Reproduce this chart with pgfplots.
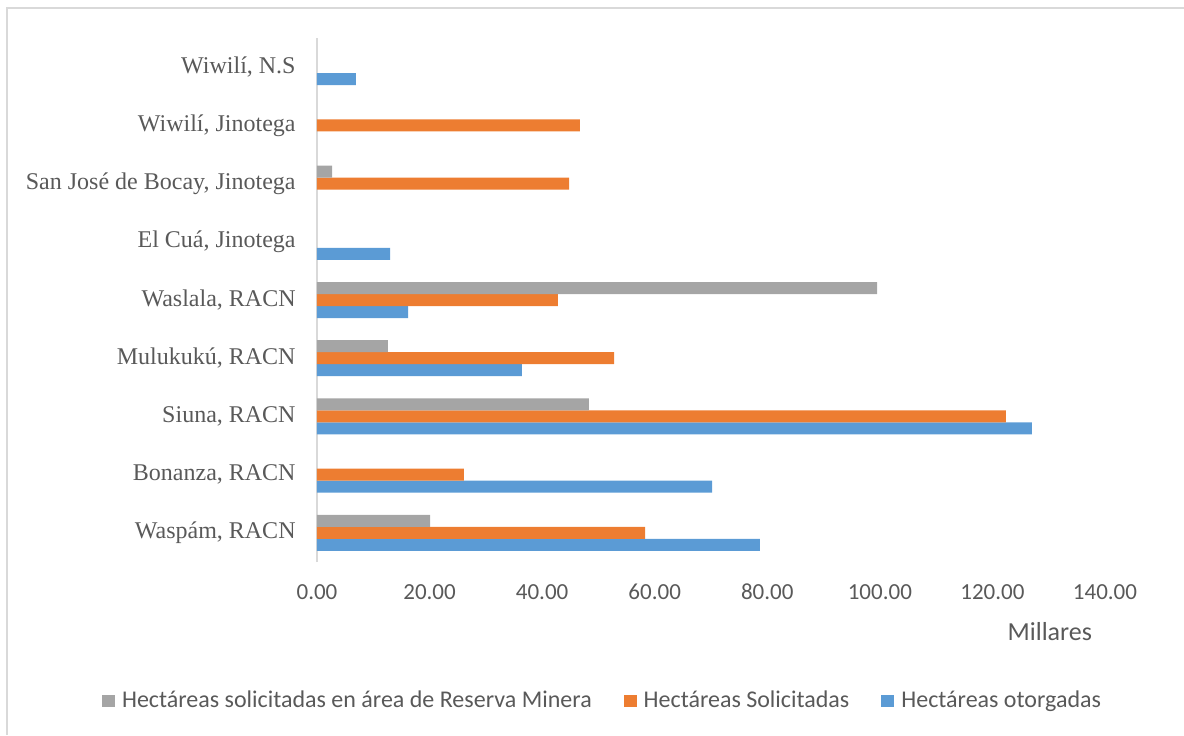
\documentclass[border=0pt]{standalone}
\usepackage{fontspec}
\setmainfont{Liberation Serif}
\newfontfamily\calibri{Carlito}
\usepackage{pgfplots}
\pgfplotsset{compat=1.18}
\definecolor{otorg}{HTML}{5B9BD5}
\definecolor{solic}{HTML}{ED7D31}
\definecolor{reserva}{HTML}{A5A5A5}
\definecolor{txt}{HTML}{595959}
\definecolor{grid}{HTML}{D9D9D9}

\begin{document}
\begin{tikzpicture}
\useasboundingbox (0,0) rectangle (592pt,367.5pt);
% chart area frame (left and top edges only, as cropped)
\draw[grid, line width=0.6pt] (3.5pt,0) -- (3.5pt,363.5pt) -- (592pt,363.5pt);
\begin{axis}[
    at={(158.5pt,86.5pt)}, anchor=south west,
    width=394pt, height=262pt, scale only axis,
    xbar=0pt, bar width=6pt,
    xmin=0, xmax=140, ymin=-0.5, ymax=8.5,
    xtick={0,20,...,140},
    ytick={0,...,8},
    yticklabels={{Waspám, RACN}, {Bonanza, RACN}, {Siuna, RACN},
        {Mulukukú, RACN}, {Waslala, RACN}, {El Cuá, Jinotega},
        {San José de Bocay, Jinotega}, {Wiwilí, Jinotega}, {Wiwilí, N.S}},
    axis lines*=left,
    x axis line style={draw=none},
    y axis line style={draw=grid, line width=0.8pt},
    major tick length=0pt,
    xticklabel style={anchor=center, yshift=-15pt, text=txt,
        font=\calibri\fontsize{11.5}{13}\selectfont,
        /pgf/number format/.cd, fixed, fixed zerofill, precision=2,
        assume math mode=true},
    yticklabel style={anchor=east, inner sep=0pt, xshift=-10.5pt, text=txt,
        font=\fontsize{12}{14}\selectfont},
    xlabel={Millares},
    xlabel style={at={(axis description cs:0.93,0)}, anchor=center,
        yshift=-35pt, text=txt, font=\calibri\fontsize{13}{15}\selectfont},
    reverse legend,
    legend columns=3,
    legend style={at={(axis description cs:0.3636,-0.2653)}, anchor=center,
        draw=none, fill=none, text=txt,
        font=\calibri\fontsize{12}{14}\selectfont,
        /tikz/every even column/.append style={column sep=14pt},
        /tikz/every odd column/.append style={column sep=0pt},
        nodes={inner sep=2pt}},
    legend image code/.code={\fill[#1] (0pt,-3.2pt) rectangle (6.5pt,3.2pt);},
    every axis plot/.append style={draw=none},
]
\addplot[fill=otorg] coordinates {
    (78.7,0) (70.2,1) (127.0,2) (36.4,3) (16.2,4) (13.0,5) (6.9,8)
};
\addlegendentry{\hspace{1.5pt}Hectáreas otorgadas}
\addplot[fill=solic] coordinates {
    (58.3,0) (26.1,1) (122.4,2) (52.8,3) (42.8,4) (44.8,6) (46.7,7)
};
\addlegendentry{\hspace{1.5pt}Hectáreas Solicitadas}
\addplot[fill=reserva] coordinates {
    (20.1,0) (48.3,2) (12.6,3) (99.5,4) (2.7,6)
};
\addlegendentry{\hspace{1.5pt}Hectáreas solicitadas en área de Reserva Minera}
\end{axis}
\end{tikzpicture}
\end{document}
